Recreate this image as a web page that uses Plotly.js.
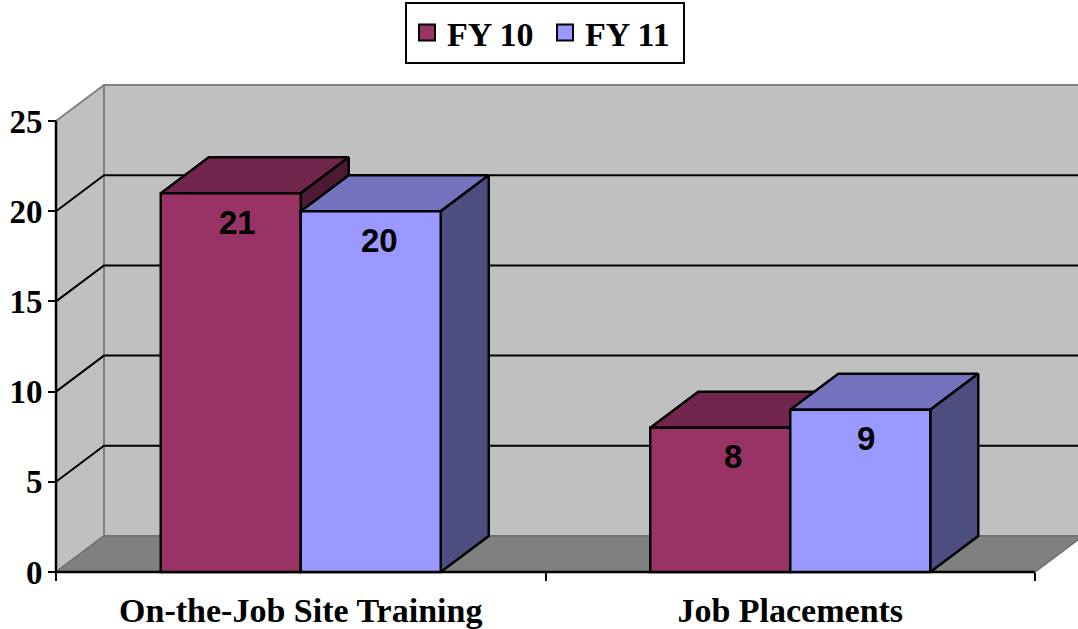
<!DOCTYPE html>
<html><head><meta charset="utf-8">
<script src="https://cdn.plot.ly/plotly-3.0.1.min.js"></script>
<style>html,body{margin:0;padding:0;background:#fff}</style></head>
<body><div id="chart" style="width:1078px;height:629px"></div>
<script>
const categories = ['On-the-Job Site Training', 'Job Placements'];
const seriesNames = ['FY 10', 'FY 11'];
const fy10 = [21, 8];
const fy11 = [20, 9];
const yTicks = [0, 5, 10, 15, 20, 25];
const frontColors = ['#993366', '#9999FF'];
const topColors = ['#73264D', '#7373BF'];
const sideColors = ['#4D1933', '#4D4D80'];

const series = [fy10, fy11];
const W = 1078, H = 629;
const ORIGIN_X = 56, ORIGIN_Y = 572, PAD = 10, T = 80;
const L = ORIGIN_X - PAD, B = H - ORIGIN_Y - PAD;
const catPx = 489.5, unitPx = 18.04;
const plotW = W - L, plotH = H - T - B;
const xLo = -PAD / catPx, xHi = xLo + plotW / catPx;
const yLo = -PAD / unitPx, yHi = yLo + plotH / unitPx;
const DX = 48 / catPx, DY = 36 / unitPx;
const GAP = 0.428, BARW = (1 - GAP) / 2;
const EDGE = {color: '#000', width: 2.5};

const poly = (xs, ys, fill, line) => ({
  type: 'scatter', mode: line ? 'lines' : 'none', x: xs.concat(xs[0]), y: ys.concat(ys[0]),
  fill: 'toself', fillcolor: fill, line: line || {width: 0},
  hoverinfo: 'skip', showlegend: false, xaxis: 'x', yaxis: 'y'
});
const path = (xs, ys, line) => ({
  type: 'scatter', mode: 'lines', x: xs, y: ys, line, hoverinfo: 'skip',
  showlegend: false, xaxis: 'x', yaxis: 'y'
});

const traces = [];
const wallLine = {color: '#808080', width: 2};
const top25 = yTicks[yTicks.length - 1];
// back wall, side wall, floor
traces.push(poly([DX, xHi + 1, xHi + 1, DX], [DY, DY, top25 + DY, top25 + DY], '#C0C0C0', wallLine));
traces.push(poly([0, DX, DX, 0], [0, DY, top25 + DY, top25], '#C0C0C0', wallLine));
traces.push(poly([0, categories.length, categories.length + DX, DX], [0, 0, DY, DY], '#808080', {color: '#6e6e6e', width: 1.5}));
// gridlines folded across side wall and back wall
yTicks.filter(v => v > 0 && v < top25).forEach(v => {
  traces.push(path([0, DX, xHi + 1], [v, v + DY, v + DY], {color: '#000', width: 2}));
});
// floor front edge and value-axis line
traces.push(path([0, categories.length], [0, 0], EDGE));
traces.push(path([0, 0], [0, top25], EDGE));
// oblique faces of each box, back to front
categories.forEach((c, i) => {
  series.forEach((vals, s) => {
    const v = vals[i], a = i + GAP / 2 + s * BARW, b = a + BARW;
    traces.push(poly([a, b, b + DX, a + DX], [v, v, v + DY, v + DY], topColors[s], EDGE));
    traces.push(poly([b, b + DX, b + DX, b], [v, v + DY, DY, 0], sideColors[s], EDGE));
  });
});
// front faces
series.forEach((vals, s) => {
  traces.push({
    type: 'bar', name: seriesNames[s], x: categories, y: vals, xaxis: 'x2', yaxis: 'y',
    marker: {color: frontColors[s], line: EDGE}, showlegend: false,
    hovertemplate: '%{x}<br>' + seriesNames[s] + ': %{y}<extra></extra>'
  });
});
// legend keys
series.forEach((vals, s) => {
  traces.push({
    type: 'scatter', mode: 'markers', name: seriesNames[s], x: [null], y: [null],
    marker: {symbol: 'square', size: 16, color: frontColors[s], line: {color: '#000', width: 2}},
    xaxis: 'x', yaxis: 'y', hoverinfo: 'skip'
  });
});

const LABEL_DROP = 1.6;
const labelNudge = [[0.014, 0.017], [0.026, 0.012]];
const annotations = [];
categories.forEach((c, i) => series.forEach((vals, s) => {
  annotations.push({
    xref: 'x', yref: 'y', x: i + GAP / 2 + (s + 0.5) * BARW + labelNudge[i][s], y: vals[i] - LABEL_DROP,
    text: String(vals[i]), showarrow: false, xanchor: 'center', yanchor: 'middle',
    font: {family: 'Liberation Sans', size: 33, color: '#000', weight: 700}
  });
}));

const serif = size => ({family: 'Liberation Serif', size, color: '#000', weight: 700});
const layout = {
  width: W, height: H, paper_bgcolor: '#fff', plot_bgcolor: '#fff',
  margin: {l: L, r: 0, t: T, b: B, pad: 0},
  barmode: 'group', bargap: GAP, bargroupgap: 0,
  xaxis: {type: 'linear', range: [xLo, xHi], visible: false, fixedrange: true},
  xaxis2: {
    type: 'category', overlaying: 'x', side: 'bottom', anchor: 'free', position: PAD / plotH,
    range: [xLo - 0.5, xHi - 0.5],
    categoryorder: 'array', categoryarray: categories, tickson: 'boundaries',
    ticks: 'outside', ticklen: 8, tickwidth: 2, tickcolor: '#000', showgrid: false,
    showline: false, zeroline: false, tickfont: serif(34), ticklabelstandoff: 15,
    automargin: false, fixedrange: true, tickangle: 0
  },
  yaxis: {
    range: [yLo, yHi], tickvals: yTicks, ticks: 'outside', ticklen: 8, tickwidth: 2, tickcolor: '#000',
    anchor: 'free', position: PAD / plotW, ticklabelstandoff: -1,
    showgrid: false, zeroline: false, showline: false, tickfont: serif(33), automargin: false, fixedrange: true
  },
  legend: {
    orientation: 'h', x: (405 - L) / plotW, xanchor: 'left', y: (H - B - 2) / plotH, yanchor: 'top',
    entrywidth: 93, entrywidthmode: 'pixels',
    bgcolor: '#fff', bordercolor: '#000', borderwidth: 2, font: serif(34), itemclick: false, itemdoubleclick: false
  },
  annotations
};
Plotly.newPlot('chart', traces, layout, {displayModeBar: false});
</script></body></html>
